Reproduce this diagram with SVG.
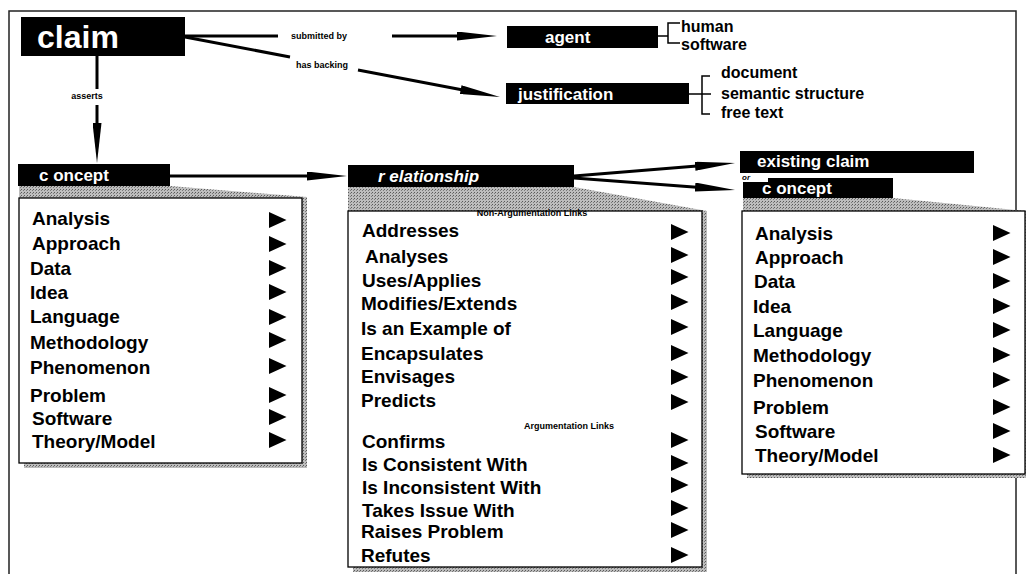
<svg xmlns="http://www.w3.org/2000/svg" xmlns:xlink="http://www.w3.org/1999/xlink" width="1026" height="574" viewBox="0 0 1026 574">
<style>
text{font-family:"Liberation Sans",Arial,Helvetica,sans-serif;font-weight:bold}
.box{fill:#000}
.lbl{fill:#fff;font-size:17px}
.item{fill:#000;font-size:19px}
.list{fill:#fff;stroke:#000;stroke-width:1.3}
.shade{fill:url(#stip)}
.conn{stroke:#000;stroke-width:3;fill:none}
.arr{marker-end:url(#ah)}
.brk{stroke:#000;stroke-width:1.5;fill:none}
.side{fill:#000;font-size:16px}
.tiny{fill:#000;font-size:9px;text-anchor:middle}
.frame{fill:none;stroke:#222;stroke-width:1.5}
</style>
<defs>
<pattern id="stip" width="3" height="3" patternUnits="userSpaceOnUse">
<rect width="3" height="3" fill="#bdbdbd"/>
<rect width="1" height="1" fill="#5a5a5a"/>
<rect x="2" y="1" width="1" height="1" fill="#7a7a7a"/>
</pattern>
<marker id="ah" markerUnits="userSpaceOnUse" markerWidth="40" markerHeight="9" refX="5" refY="4.5" orient="auto" viewBox="0 0 40 9">
<path d="M0,0 L40,4.5 L0,9Z" fill="#000"/>
</marker>
<path id="tri" d="M0,-8 L17.5,0 L0,8Z" fill="#000"/>
</defs>

<rect class="frame" x="9" y="11" width="1007" height="600"/>

<g id="claim">
<rect class="box" x="21" y="17" width="164" height="39"/>
<text x="37" y="48" fill="#fff" font-size="32">claim</text>
</g>

<g id="agent">
<rect class="box" x="507" y="26" width="151" height="22"/>
<text class="lbl" x="545" y="42.5">agent</text>
<path class="brk" d="M658,36 H668 M680,23 H668 V43 H680"/>
<text class="side" x="681" y="31.5">human</text>
<text class="side" x="681" y="50">software</text>
</g>

<g id="justification">
<rect class="box" x="506" y="83" width="183" height="21"/>
<text class="lbl" x="518" y="100" font-size="17.5">justification</text>
<path class="brk" d="M689,94 H711 M710,76 H702 V114 H710"/>
<text class="side" x="721" y="78" font-size="15.5">document</text>
<text class="side" x="721" y="99" font-size="15.5">semantic structure</text>
<text class="side" x="721" y="118" font-size="15.5">free text</text>
</g>

<g id="concept-left">
<polygon class="shade" points="19,186 170,186 307,197 307,468 24,468 24,463 19,463"/>
<rect class="list" x="19" y="198" width="283" height="265"/>
<rect class="box" x="18" y="164" width="152" height="22"/>
<text class="lbl" x="39" y="181">c oncept</text>
<text class="item" x="32" y="225">Analysis</text>
<text class="item" x="32" y="250">Approach</text>
<text class="item" x="30" y="275">Data</text>
<text class="item" x="30" y="299">Idea</text>
<text class="item" x="30" y="323">Language</text>
<text class="item" x="30" y="349">Methodology</text>
<text class="item" x="30" y="374">Phenomenon</text>
<text class="item" x="30" y="402">Problem</text>
<text class="item" x="32" y="425">Software</text>
<text class="item" x="32" y="448">Theory/Model</text>
<use xlink:href="#tri" x="269" y="220"/>
<use xlink:href="#tri" x="269" y="244"/>
<use xlink:href="#tri" x="269" y="268"/>
<use xlink:href="#tri" x="269" y="292"/>
<use xlink:href="#tri" x="269" y="317"/>
<use xlink:href="#tri" x="269" y="340"/>
<use xlink:href="#tri" x="269" y="366"/>
<use xlink:href="#tri" x="269" y="395"/>
<use xlink:href="#tri" x="269" y="417"/>
<use xlink:href="#tri" x="269" y="440"/>
</g>

<g id="relationship">
<polygon class="shade" points="348,187 574,187 707,211 707,572 353,572 353,567 348,567"/>
<rect class="list" x="348" y="211" width="354" height="356"/>
<rect class="box" x="348" y="165" width="226" height="22"/>
<text class="lbl" x="378" y="182" font-style="italic">r elationship</text>
<text class="tiny" x="532" y="216" font-size="7.3">Non-Argumentation Links</text>
<text class="item" x="362" y="237">Addresses</text>
<text class="item" x="365" y="263">Analyses</text>
<text class="item" x="362" y="287">Uses/Applies</text>
<text class="item" x="361" y="310">Modifies/Extends</text>
<text class="item" x="361" y="335">Is an Example of</text>
<text class="item" x="361" y="360">Encapsulates</text>
<text class="item" x="361" y="383">Envisages</text>
<text class="item" x="361" y="407">Predicts</text>
<text class="tiny" x="569" y="429" font-size="8.5">Argumentation Links</text>
<text class="item" x="362" y="448">Confirms</text>
<text class="item" x="362" y="471">Is Consistent With</text>
<text class="item" x="362" y="494">Is Inconsistent With</text>
<text class="item" x="362" y="517">Takes Issue With</text>
<text class="item" x="361" y="538">Raises Problem</text>
<text class="item" x="361" y="562">Refutes</text>
<use xlink:href="#tri" x="671" y="232"/>
<use xlink:href="#tri" x="671" y="255"/>
<use xlink:href="#tri" x="671" y="277"/>
<use xlink:href="#tri" x="671" y="302"/>
<use xlink:href="#tri" x="671" y="327"/>
<use xlink:href="#tri" x="671" y="353"/>
<use xlink:href="#tri" x="671" y="377"/>
<use xlink:href="#tri" x="671" y="402"/>
<use xlink:href="#tri" x="671" y="440"/>
<use xlink:href="#tri" x="671" y="463"/>
<use xlink:href="#tri" x="671" y="485"/>
<use xlink:href="#tri" x="671" y="508"/>
<use xlink:href="#tri" x="671" y="530"/>
<use xlink:href="#tri" x="671" y="555"/>
</g>

<g id="existing-claim">
<rect class="box" x="740" y="151" width="234" height="22"/>
<text class="lbl" x="757" y="167" font-size="17.5">existing claim</text>
</g>

<g id="concept-right">
<polygon class="shade" points="743,198 893,198 1026,211 1026,478 747,478 747,474 743,474"/>
<rect class="list" x="742" y="211" width="283" height="263"/>
<rect class="box" x="743" y="178" width="150" height="20"/>
<rect x="740" y="173" width="28" height="9" fill="#fff"/>
<text x="742" y="180" font-size="8" font-style="italic" fill="#000">or</text>
<text class="lbl" x="762" y="194" font-size="18.5">c oncept</text>
<text class="item" x="755" y="240">Analysis</text>
<text class="item" x="755" y="264">Approach</text>
<text class="item" x="754" y="288">Data</text>
<text class="item" x="753" y="313">Idea</text>
<text class="item" x="753" y="337">Language</text>
<text class="item" x="753" y="362">Methodology</text>
<text class="item" x="753" y="387">Phenomenon</text>
<text class="item" x="753" y="414">Problem</text>
<text class="item" x="755" y="438">Software</text>
<text class="item" x="755" y="462">Theory/Model</text>
<use xlink:href="#tri" x="993" y="233"/>
<use xlink:href="#tri" x="993" y="257"/>
<use xlink:href="#tri" x="993" y="281"/>
<use xlink:href="#tri" x="993" y="306"/>
<use xlink:href="#tri" x="993" y="330"/>
<use xlink:href="#tri" x="993" y="355"/>
<use xlink:href="#tri" x="993" y="380"/>
<use xlink:href="#tri" x="993" y="407"/>
<use xlink:href="#tri" x="993" y="431"/>
<use xlink:href="#tri" x="993" y="455"/>
</g>

<g id="connectors">
<path class="conn" d="M185,36 H278"/>
<path class="conn arr" d="M392,36 H462"/>
<text class="tiny" x="319" y="39">submitted by</text>
<path class="conn" d="M185,37 L290,57"/>
<path class="conn arr" d="M358,70 L465.6,90.5"/>
<text class="tiny" x="322" y="68">has backing</text>
<path class="conn" d="M97,56 V89"/>
<path class="conn arr" d="M97,105 V128"/>
<text class="tiny" x="87" y="99">asserts</text>
<path class="conn arr" d="M170,176 H312"/>
<path class="conn arr" d="M574,176 L700.1,165.8"/>
<path class="conn arr" d="M574,178 L700.1,187.4"/>
</g>
</svg>
